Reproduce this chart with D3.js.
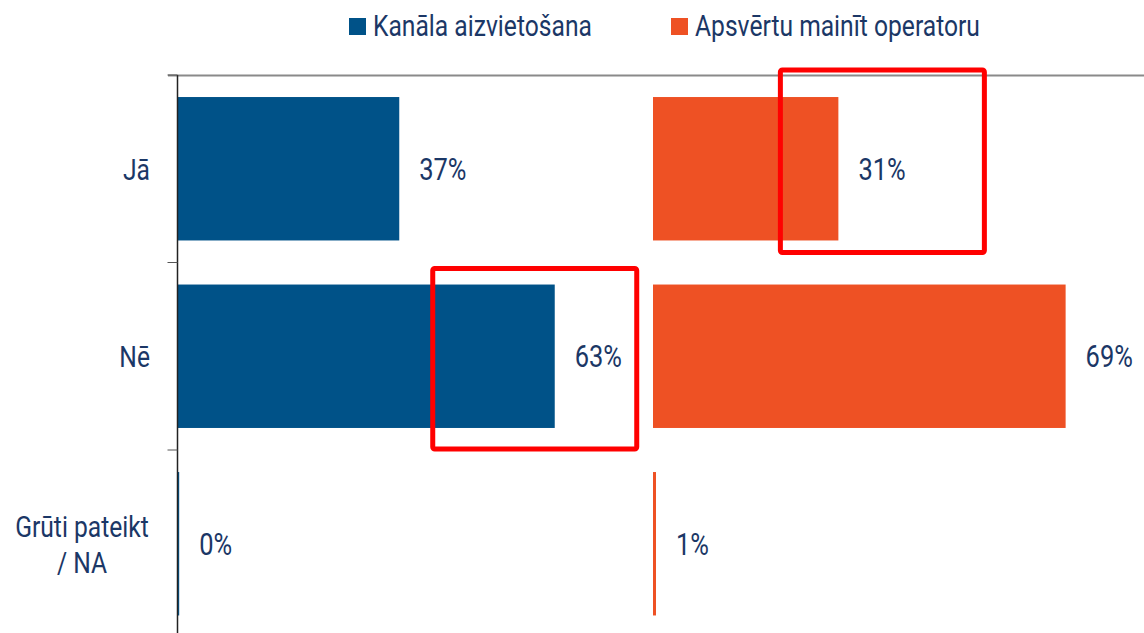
<!DOCTYPE html>
<html>
<head>
<meta charset="utf-8">
<script src="https://cdn.jsdelivr.net/npm/d3@7"></script>
<style>
  body { margin: 0; background: #fff; }
  text { font-family: Roboto, "Noto Sans", sans-serif; fill: #1b3766; }
</style>
</head>
<body>
<script>
// chart data
const categories  = ['Jā', 'Nē', 'Grūti pateikt / NA'];
const categoryLines = [['Jā'], ['Nē'], ['Grūti pateikt', '/ NA']];
const seriesNames = ['Kanāla aizvietošana', 'Apsvērtu mainīt operatoru'];
const seriesColors = ['#005288', '#ee5124'];
const blueValues   = [37, 63, 0.2];
const orangeValues = [31, 69, 0.5];

// red highlight boxes drawn over the picture (series index, category, offsets from bar end)
const highlights = [
  { series: 1, category: 'Jā', left: -58, right: 146, top: -27, bottom: 12 },
  { series: 0, category: 'Nē', left: -122, right: 82, top: -16, bottom: 21 }
];

const WIDTH = 1144, HEIGHT = 633;
const AXIS_X = 177.5;
const PANEL_X = [178, 653];

const svg = d3.select('body').append('svg')
  .attr('width', WIDTH)
  .attr('height', HEIGHT);

// the original font is a condensed one: squeeze Roboto horizontally
const probe = svg.append('text').attr('font-size', 30).text(seriesNames[0]);
const SQUEEZE = 219 / probe.node().getComputedTextLength();
probe.remove();

function addText(parent, x, y, lines, size, anchor) {
  const g = parent.append('g')
    .attr('transform', 'translate(' + x + ',' + y + ') scale(' + SQUEEZE + ',1)');
  const t = g.append('text')
    .attr('font-size', size)
    .attr('text-anchor', anchor || 'start');
  lines.forEach(function (l, i) {
    t.append('tspan')
      .attr('x', 0)
      .attr('dy', i === 0 ? (0.36 - (lines.length - 1) * 0.6) + 'em' : '1.2em')
      .text(l);
  });
  return g;
}

const y = d3.scaleBand()
  .domain(categories)
  .range([75, 637.5])
  .paddingInner(0.235)
  .paddingOuter(0.1175);

const x = d3.scaleLinear()
  .domain([0, 100])
  .range([0, 598]);

const series = [blueValues, orangeValues].map(function (vals, i) {
  return {
    name: seriesNames[i],
    color: seriesColors[i],
    offset: PANEL_X[i],
    values: categories.map(function (c, j) { return { category: c, value: vals[j] }; })
  };
});

// top gray line
svg.append('line')
  .attr('x1', 168).attr('x2', WIDTH)
  .attr('y1', 75.5).attr('y2', 75.5)
  .attr('stroke', '#8a8a8a')
  .attr('stroke-width', 2);

// bars + labels
series.forEach(function (s) {
  const g = svg.append('g').attr('transform', 'translate(' + s.offset + ',0)');

  g.selectAll('rect')
    .data(s.values)
    .join('rect')
      .attr('x', 0)
      .attr('y', function (d) { return y(d.category); })
      .attr('width', function (d) { return x(d.value); })
      .attr('height', y.bandwidth())
      .attr('fill', s.color);

  s.values.forEach(function (d) {
    addText(g, x(d.value) + 20, y(d.category) + y.bandwidth() / 2,
      [Math.round(d.value) + '%'], 31);
  });
});

// category axis
const axis = svg.append('g')
  .attr('transform', 'translate(' + AXIS_X + ',0)');

axis.append('line')
  .attr('x1', 0).attr('x2', 0)
  .attr('y1', 75).attr('y2', HEIGHT)
  .attr('stroke', '#222')
  .attr('stroke-width', 1.5);

// ticks between bands
const boundaries = categories.map(function (c) { return y(c) - y.step() * y.paddingOuter(); });
axis.selectAll('.sep')
  .data(boundaries)
  .join('line')
    .attr('class', 'sep')
    .attr('x1', -10).attr('x2', 0)
    .attr('y1', function (d) { return d; })
    .attr('y2', function (d) { return d; })
    .attr('stroke', '#555')
    .attr('stroke-width', 1);

// category labels
categories.forEach(function (c, i) {
  const cy = y(c) + y.bandwidth() / 2;
  const lines = categoryLines[i];
  if (lines.length > 1) {
    addText(svg, 82, cy, lines, 30, 'middle');
  } else {
    addText(svg, 150, cy, lines, 30, 'end');
  }
});

// legend
const legendX = [349, 671];
series.forEach(function (s, i) {
  const lg = svg.append('g').attr('transform', 'translate(' + legendX[i] + ',0)');
  lg.append('rect')
    .attr('x', 0).attr('y', 18)
    .attr('width', 17).attr('height', 17)
    .attr('fill', s.color);
  addText(lg, 24, 25, [s.name], 30);
});

// red highlight boxes
highlights.forEach(function (h) {
  const s = series[h.series];
  const d = s.values[categories.indexOf(h.category)];
  const end = s.offset + x(d.value);
  const top = y(h.category);
  svg.append('rect')
    .attr('x', end + h.left)
    .attr('y', top + h.top)
    .attr('width', h.right - h.left)
    .attr('height', y.bandwidth() - h.top + h.bottom)
    .attr('rx', 2)
    .attr('fill', 'none')
    .attr('stroke', '#ff0000')
    .attr('stroke-width', 5);
});
</script>
</body>
</html>
